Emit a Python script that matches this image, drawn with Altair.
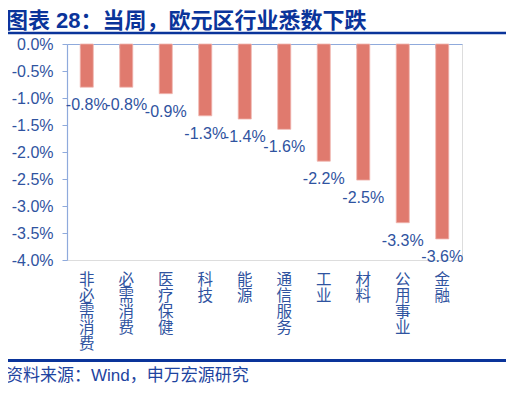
import altair as alt
import pandas as pd

categories = ["非必需消费", "必需消费", "医疗保健", "科技", "能源", "通信服务", "工业", "材料", "公用事业", "金融"]
values = [-0.0080, -0.0080, -0.0092, -0.0133, -0.0139, -0.0158, -0.0217, -0.0252, -0.0331, -0.0361]
y_ticks = [0, -0.005, -0.01, -0.015, -0.02, -0.025, -0.03, -0.035, -0.04]
title_text = "图表 28：当周，欧元区行业悉数下跌"
source_text = "资料来源：Wind，申万宏源研究"

df = pd.DataFrame({"cat": categories, "val": values})
one = pd.DataFrame({"k": [0]})

W, H = 395, 216
FONT = "Liberation Sans, Noto Sans CJK SC"
LABEL_COLOR = "#2F53A0"
AXIS_COLOR = "#8FAADC"
DARK_BLUE = "#0A349A"

x_enc = alt.X("cat:N", sort=categories, title=None,
              scale=alt.Scale(paddingInner=0.67, paddingOuter=0.335),
              axis=alt.Axis(orient="bottom", domain=False, ticks=False, labelAngle=0,
                            labelExpr="split(datum.label, '')", labelLineHeight=16,
                            labelFontSize=15.5, labelColor=LABEL_COLOR, labelFont=FONT,
                            labelPadding=12, labelBaseline="top"))
y_axis = alt.Axis(values=y_ticks,
                  labelExpr="replace(format(datum.value, '.1%'), '\u2212', '-')",
                  labelOverlap=False, grid=False, domainColor=AXIS_COLOR,
                  tickColor=AXIS_COLOR, tickSize=5, labelFontSize=16,
                  labelColor=LABEL_COLOR, labelFont=FONT, labelPadding=9,
                  domainWidth=1.2)
y_enc = alt.Y("val:Q", title=None, scale=alt.Scale(domain=[-0.04, 0], nice=False),
              axis=y_axis)

bars = alt.Chart(df).mark_bar(color="#E07A6E", stroke="#F0B5AE", strokeWidth=0.8).encode(
    x=x_enc, y=y_enc)

labels = alt.Chart(df).transform_calculate(
    lbl="replace(format(datum.val, '.1%'), '\u2212', '-')"
).mark_text(baseline="top", dy=10, fontSize=16, font=FONT, color=LABEL_COLOR).encode(
    x=alt.X("cat:N", sort=categories, title=None,
            axis=alt.Axis(orient="bottom", offset=-H, labels=False, domain=True,
                          domainColor=AXIS_COLOR, tickColor=AXIS_COLOR, tickSize=4,
                          bandPosition=0, domainWidth=1.2)),
    y=y_enc,
    text="lbl:N")

title = alt.Chart(one).mark_text(align="left", baseline="alphabetic", fontSize=22,
                                 fontWeight="bold", font=FONT, color=DARK_BLUE).encode(
    x=alt.value(-61), y=alt.value(-16), text=alt.value(title_text))
top_line = alt.Chart(one).mark_rule(color=DARK_BLUE, strokeWidth=2.5).encode(
    x=alt.value(-62), x2=alt.value(440), y=alt.value(-11))
bottom_line = alt.Chart(one).mark_rule(color=DARK_BLUE, strokeWidth=3).encode(
    x=alt.value(-62), x2=alt.value(440), y=alt.value(316.5))
source = alt.Chart(one).mark_text(align="left", baseline="alphabetic", fontSize=17,
                                  font=FONT, color="#1E44A0").encode(
    x=alt.value(-61), y=alt.value(337), text=alt.value(source_text))

chart = alt.layer(bars, labels, title, top_line, bottom_line, source).resolve_axis(
    x="independent").properties(
    width=W, height=H,
    autosize=alt.AutoSizeParams(type="none"),
    padding={"left": 59, "top": 36, "right": 44, "bottom": 126},
).configure_view(stroke=None).configure(background="white")

chart.save("out.html", embed_options={"renderer": "svg", "actions": False})
